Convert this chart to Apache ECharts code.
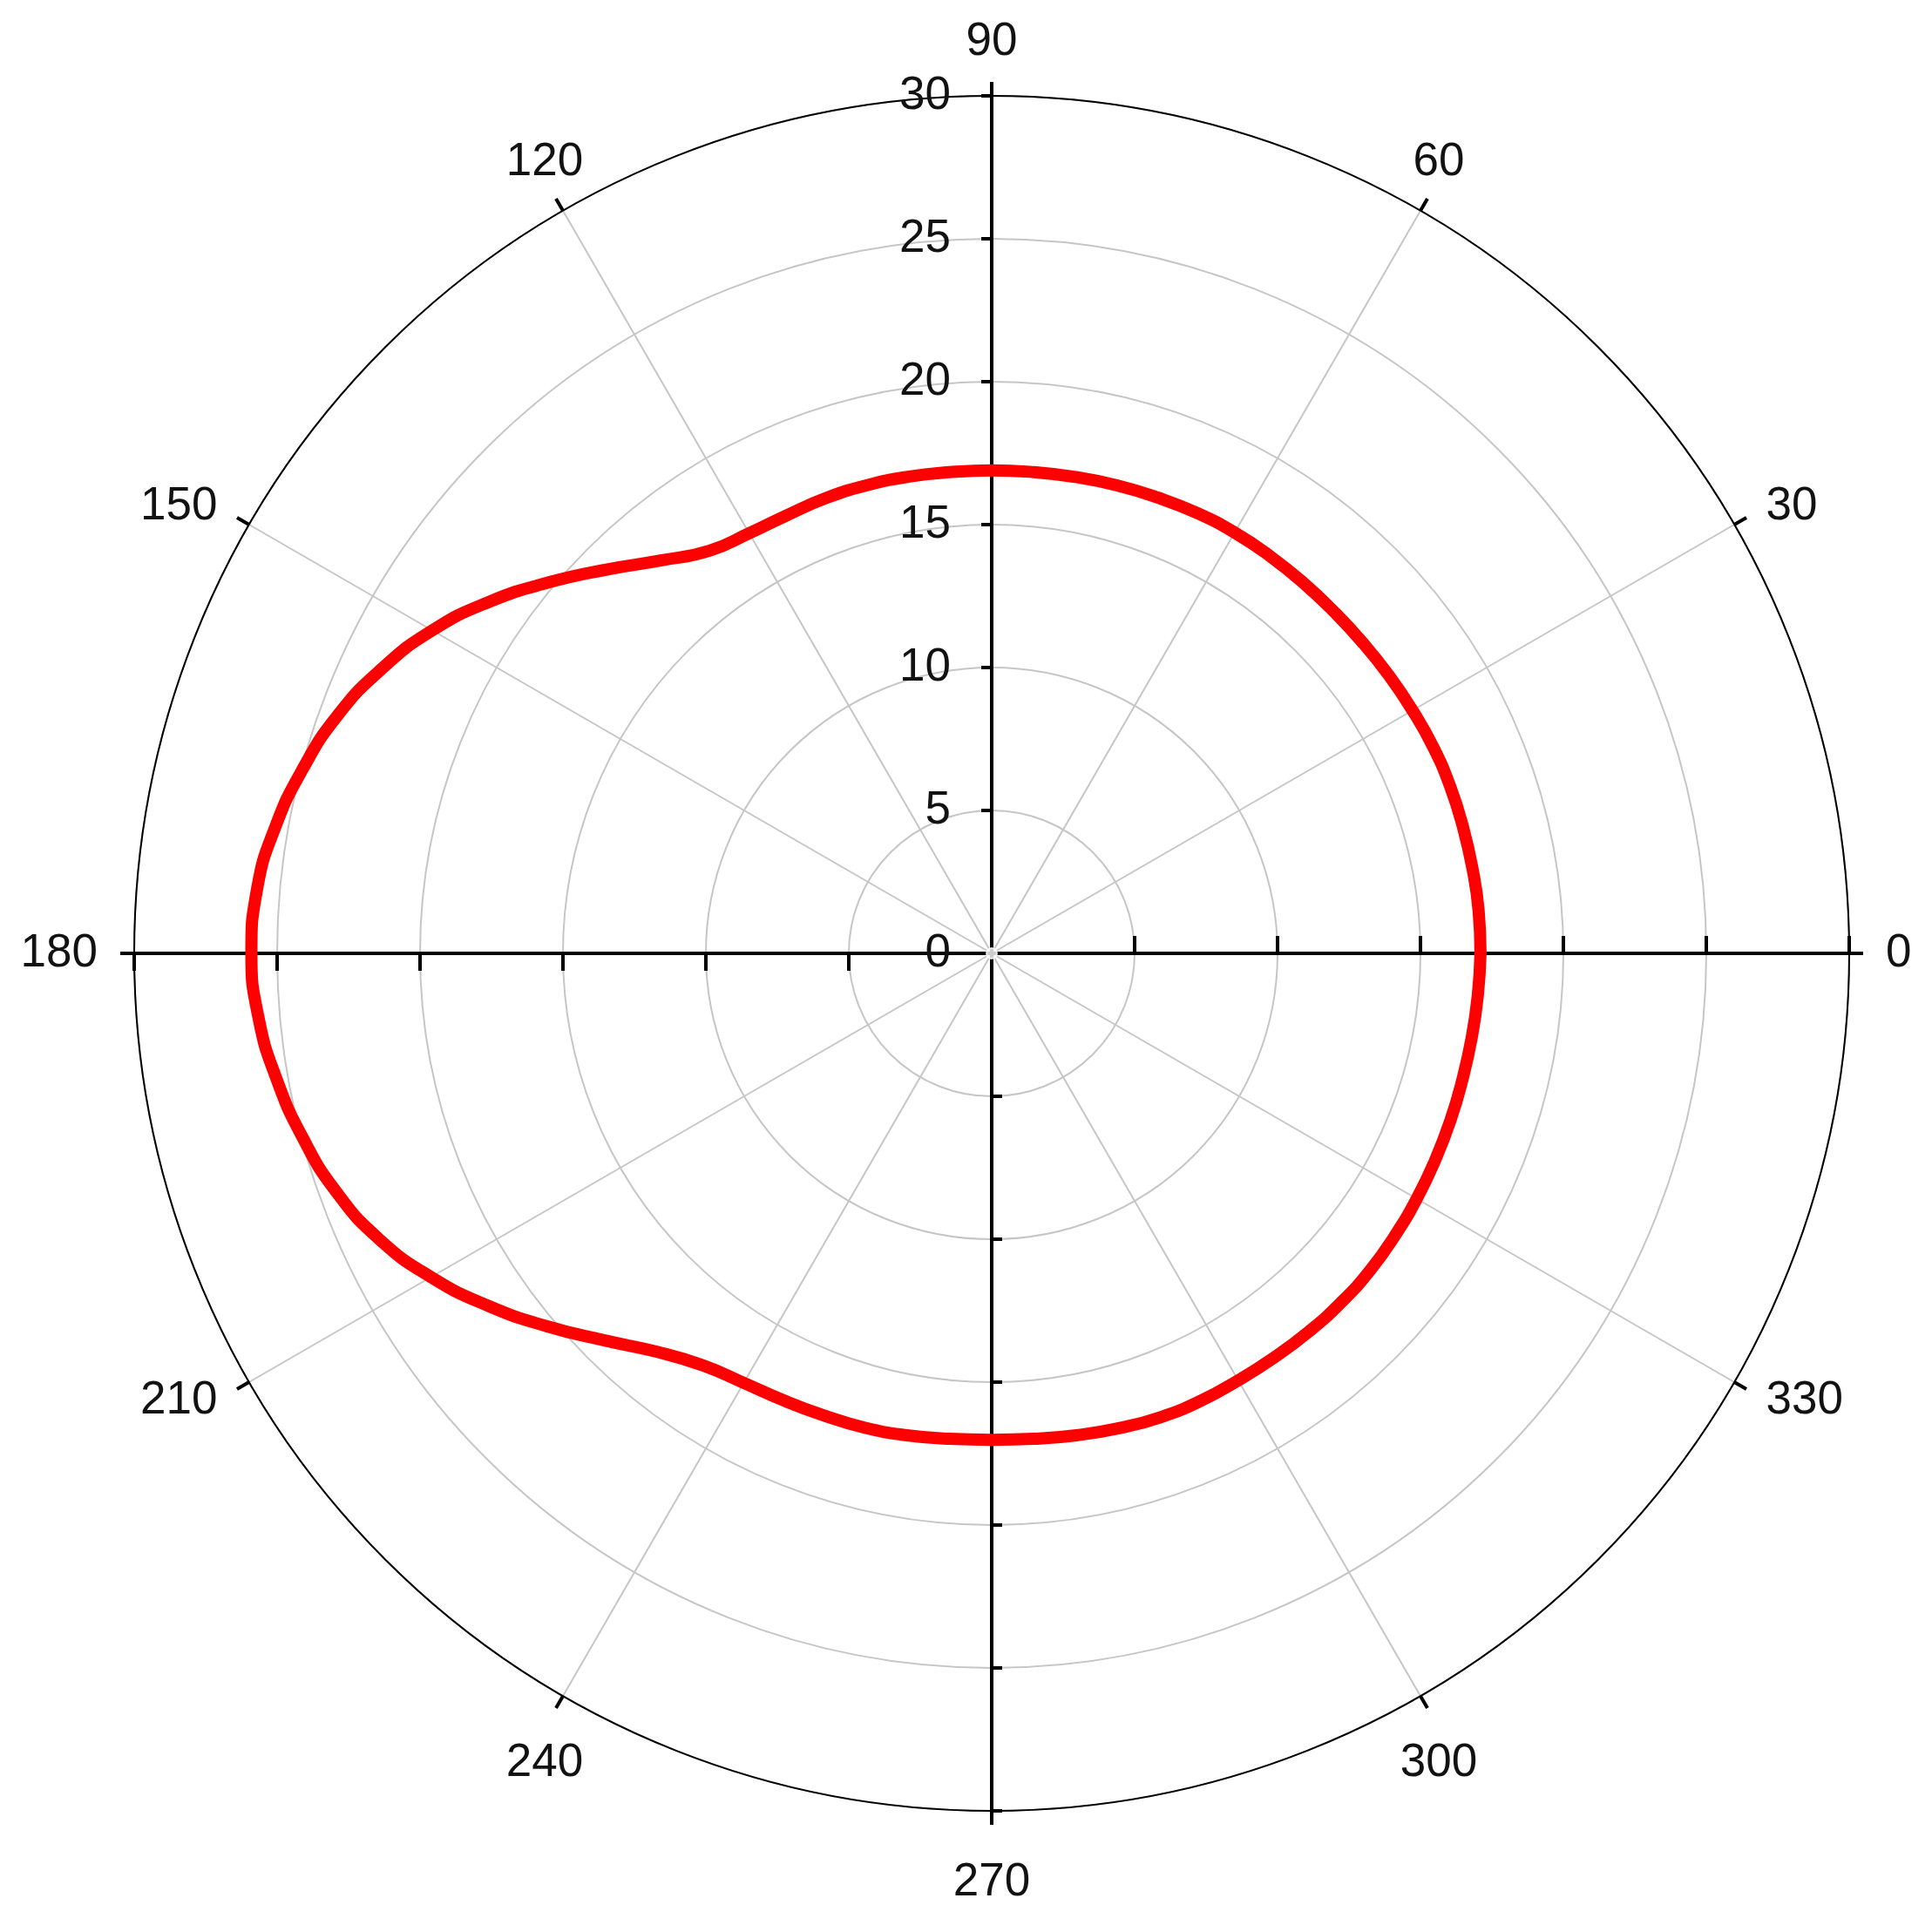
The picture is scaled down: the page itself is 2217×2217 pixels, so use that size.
<!DOCTYPE html>
<html>
<head>
<meta charset="utf-8">
<script src="https://cdn.jsdelivr.net/npm/echarts@6/dist/echarts.min.js"></script>
<style>
html,body{margin:0;padding:0;background:#ffffff;}
#chart{width:2217px;height:2217px;}
</style>
</head>
<body>
<div id="chart"></div>
<script>
// Angles (degrees) of the sampled curve
const angles = [0,5,10,15,20,25,30,35,40,45,50,55,60,65,70,75,80,85,
  90,95,100,105,110,115,120,125,130,135,140,145,150,155,160,165,170,175,
  180,185,190,195,200,205,210,215,220,225,230,235,240,245,250,255,260,265,
  270,275,280,285,290,295,300,305,310,315,320,325,330,335,340,345,350,355,360];
// Radius values
const radii = [17.1,17.1,17.08,17.07,17.07,17.05,17.0,16.96,16.93,16.92,16.94,16.97,17.0,17.0,16.97,16.95,16.92,16.9,
  16.9,16.9,16.93,16.95,16.95,16.92,16.97,17.2,17.95,19.0,20.2,21.45,22.6,23.55,24.35,24.95,25.45,25.8,
  25.9,25.75,25.4,24.95,24.4,23.65,22.65,21.5,20.3,19.15,18.2,17.6,17.35,17.25,17.2,17.18,17.12,17.05,
  17.02,17.05,17.12,17.2,17.27,17.28,17.25,17.25,17.27,17.28,17.27,17.22,17.17,17.12,17.08,17.05,17.05,17.07,17.1];
// Axis scales and tick labels
const radiusMin = 0, radiusMax = 30, radiusStep = 5;
const angleMin = 0, angleMax = 360, angleStep = 30;
const angleLabels = [0,30,60,90,120,150,180,210,240,270,300,330];

const CX = 1138, CY = 1094, R = 984, LABEL_GAP = 42;
const FONT = 'Liberation Sans';
const FS = 53;
const TXT = '#121212';
const GRID = '#c6c6c6';

const seriesData = angles.map((a, i) => [radii[i], a]);

const labelData = angleLabels.map(a => {
  const c = Math.cos(a * Math.PI / 180), s = Math.sin(a * Math.PI / 180);
  let position, offset = [0, 0];
  if (Math.abs(c) > Math.abs(s) + 1e-9) { position = c > 0 ? 'right' : 'left'; }
  else if (s > 0) { position = 'top'; offset = [0, 7]; }
  else { position = 'bottom'; offset = [0, 14]; }
  return {value: [radiusMax, a], label: {position: position, offset: offset}};
});

function hiddenAngle(idx, start) {
  return {
    polarIndex: idx, type: 'value', min: angleMin, max: angleMax, interval: angleStep,
    startAngle: start, clockwise: false,
    axisLine: {show: false}, axisTick: {show: false}, axisLabel: {show: false}, splitLine: {show: false}
  };
}
function hiddenRadius(idx) {
  return {
    polarIndex: idx, type: 'value', min: radiusMin, max: radiusMax, interval: radiusStep,
    axisLine: {show: false}, axisTick: {show: false}, axisLabel: {show: false}, splitLine: {show: false}
  };
}
function armRadius(idx, showLabel, tickLen, inside) {
  return {
    polarIndex: idx, type: 'value', min: radiusMin, max: radiusMax, interval: radiusStep,
    axisLine: {show: true, lineStyle: {color: '#000', width: 4}},
    axisTick: {show: true, length: tickLen, inside: inside, lineStyle: {color: '#000', width: 4}},
    axisLabel: {show: showLabel, fontFamily: FONT, fontSize: FS, color: TXT, margin: 47},
    splitLine: {show: false}
  };
}

const option = {
  animation: false,
  backgroundColor: '#ffffff',
  polar: [
    {center: [CX, CY], radius: R},
    {center: [CX, CY], radius: R},
    {center: [CX, CY], radius: R},
    {center: [CX, CY], radius: R},
    {center: [CX, CY], radius: R + LABEL_GAP}
  ],
  angleAxis: [
    {
      polarIndex: 0, type: 'value', min: angleMin, max: angleMax, interval: angleStep,
      startAngle: 0, clockwise: false,
      axisLine: {show: true, lineStyle: {color: '#000', width: 2}},
      axisTick: {show: true, length: 16, inside: false, lineStyle: {color: '#000', width: 4}},
      axisLabel: {show: false},
      splitLine: {show: true, lineStyle: {color: GRID, width: 2}}
    },
    hiddenAngle(1, 90), hiddenAngle(2, 180), hiddenAngle(3, 270), hiddenAngle(4, 0)
  ],
  radiusAxis: [
    {
      polarIndex: 0, type: 'value', min: radiusMin, max: radiusMax, interval: radiusStep,
      axisLine: {show: true, lineStyle: {color: '#000', width: 4}},
      axisTick: {show: true, length: 20, inside: true, lineStyle: {color: '#000', width: 4}},
      axisLabel: {show: false},
      splitLine: {show: true, lineStyle: {color: GRID, width: 2}}
    },
    armRadius(1, true, 12, false),
    armRadius(2, false, 20, false),
    armRadius(3, false, 12, true),
    hiddenRadius(4)
  ],
  series: [
    {
      type: 'line', coordinateSystem: 'polar', polarIndex: 0,
      data: seriesData, showSymbol: false, smooth: true, z: 10,
      lineStyle: {color: '#ff0000', width: 14}
    },
    {
      type: 'scatter', coordinateSystem: 'polar', polarIndex: 0,
      data: [[radiusMin, angleMin]], symbol: 'emptyCircle', symbolSize: 12, z: 5,
      itemStyle: {color: '#fff', borderColor: '#b0b0b0', borderWidth: 2}, silent: true
    },
    {
      type: 'scatter', coordinateSystem: 'polar', polarIndex: 4,
      data: labelData, symbol: 'circle', symbolSize: 0.1, silent: true, z: 6,
      itemStyle: {color: '#ffffff', opacity: 1},
      emphasis: {disabled: true},
      label: {show: true, distance: 0, fontFamily: FONT, fontSize: FS, color: TXT,
        opacity: 1, textBorderWidth: 0,
        formatter: p => String(p.value[1])}
    }
  ]
};

const chart = echarts.init(document.getElementById('chart'), null, {renderer: 'canvas'});
chart.setOption(option);
</script>
</body>
</html>
